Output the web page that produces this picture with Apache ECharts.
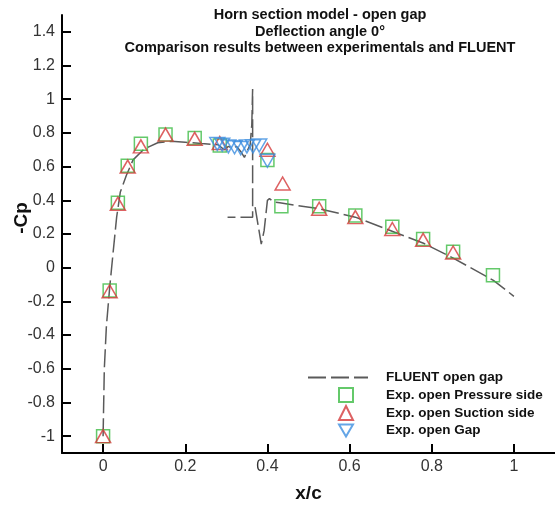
<!DOCTYPE html>
<html><head><meta charset="utf-8">
<script src="https://cdn.jsdelivr.net/npm/echarts@6/dist/echarts.min.js"></script>
<style>html,body{margin:0;padding:0;background:#fff}#c{width:555px;height:508px}</style>
</head><body><div id="c"></div>
<script>
const titleLines = ["Horn section model - open gap", "Deflection angle 0\u00b0", "Comparison results between experimentals and FLUENT"];
const xTicks = [0, 0.2, 0.4, 0.6, 0.8, 1];
const yTicks = [-1, -0.8, -0.6, -0.4, -0.2, 0, 0.2, 0.4, 0.6, 0.8, 1, 1.2, 1.4];
const seriesNames = ["FLUENT open gap", "Exp. open Pressure side", "Exp. open Suction side", "Exp. open Gap"];

const fluent = [
  [0,-1.0],[0.003,-0.6],[0.008,-0.35],[0.016,-0.12],[0.024,0.08],[0.033,0.3],[0.042,0.45],
  [0.057,0.55],[0.073,0.64],[0.1,0.705],[0.133,0.742],[0.166,0.75],[0.2,0.745],[0.24,0.737],
  [0.28,0.73],[0.295,0.70],[0.305,0.72],[0.315,0.71],[0.325,0.72],[0.335,0.69],[0.344,0.655],
  [0.352,0.70],[0.358,0.73],[0.362,0.85],[0.364,1.06],[0.364,0.30],[0.303,0.30],
  null,
  [0.37,0.36],[0.385,0.14],[0.392,0.22],[0.4,0.40],[0.405,0.41],[0.415,0.39],[0.43,0.385],
  [0.47,0.37],[0.526,0.35],[0.614,0.30],[0.705,0.215],[0.78,0.145],[0.85,0.06],[0.95,-0.075],[1.0,-0.17]
];
const pressure = [
  [0,-1.0],[0.016,-0.135],[0.036,0.385],[0.06,0.605],[0.092,0.735],[0.152,0.79],[0.223,0.77],
  [0.284,0.725],[0.4,0.64],[0.434,0.365],[0.526,0.365],[0.614,0.31],[0.704,0.243],[0.779,0.17],
  [0.852,0.095],[0.949,-0.045]
];
const suction = [
  [0,-1.0],[0.016,-0.14],[0.036,0.38],[0.06,0.6],[0.092,0.72],[0.152,0.79],[0.223,0.765],
  [0.284,0.74],[0.4,0.7],[0.437,0.5],[0.526,0.35],[0.614,0.30],[0.704,0.23],[0.779,0.165],[0.852,0.09]
];
const gap = [
  [0.278,0.735],[0.29,0.73],[0.305,0.72],[0.32,0.715],[0.335,0.71],[0.35,0.72],
  [0.365,0.72],[0.38,0.725],[0.4,0.635]
];

const chart = echarts.init(document.getElementById('c'), null, {renderer: 'canvas'});
const F = 'Liberation Sans, Arial, Helvetica, sans-serif';
const clear = 'rgba(0,0,0,0)';
const legendText = {fontFamily: F, fontWeight: 'bold', fontSize: 13.5, lineHeight: 15, color: '#111'};
chart.setOption({
  animation: false,
  backgroundColor: '#fff',
  title: {
    text: titleLines.join('\n'),
    left: 320, top: 7, padding: 0, textAlign: 'center',
    textStyle: {fontFamily: F, fontWeight: 'bold', fontSize: 14.5, lineHeight: 16.5, color: '#111'}
  },
  grid: {left: 62, right: 0, top: 15, bottom: 44, containLabel: false},
  xAxis: {
    type: 'value', min: -0.1, max: 1.1,
    name: 'x/c', nameLocation: 'middle', nameGap: 31,
    nameTextStyle: {fontFamily: F, fontWeight: 'bold', fontSize: 19, color: '#111'},
    axisLine: {onZero: false, lineStyle: {color: '#000', width: 2}},
    axisTick: {inside: true, length: 9, lineStyle: {color: '#000', width: 2}, customValues: xTicks},
    axisLabel: {customValues: xTicks, fontFamily: F, fontSize: 16, color: '#333', margin: 6},
    splitLine: {show: false}
  },
  yAxis: {
    type: 'value', min: -1.1, max: 1.5,
    axisLine: {onZero: false, lineStyle: {color: '#000', width: 2}},
    axisTick: {inside: true, length: 9, lineStyle: {color: '#000', width: 2}, customValues: yTicks},
    axisLabel: {customValues: yTicks, fontFamily: F, fontSize: 16, color: '#333', margin: 7},
    splitLine: {show: false}
  },
  graphic: [{
    type: 'text', x: 22, y: 218, rotation: Math.PI / 2,
    style: {text: '-Cp', font: 'bold 19px ' + F, fill: '#111', align: 'center', verticalAlign: 'middle'}
  }],
  legend: [{
    orient: 'vertical', left: 307, top: 370, padding: 0, itemWidth: 60, itemHeight: 14, itemGap: 3,
    itemStyle: {opacity: 0},
    textStyle: Object.assign({padding: [0,0,0,13]}, legendText),
    data: [seriesNames[0]]
  }, {
    orient: 'vertical', left: 338, top: 387, padding: 0, itemWidth: 14, itemHeight: 14, itemGap: 2,
    textStyle: Object.assign({padding: [0,0,0,28]}, legendText),
    data: [seriesNames[1], seriesNames[2], {name: seriesNames[3], icon: 'path://M0,0 L15,0 L7.5,13 Z'}]
  }],
  series: [
    {name: seriesNames[0], type: 'line', data: fluent, symbol: 'none', connectNulls: false,
     lineStyle: {color: '#5a5a5a', width: 1.5, type: [18, 5]}, itemStyle: {color: '#5a5a5a'}, z: 1},
    {name: seriesNames[1], type: 'scatter', data: pressure, symbol: 'rect', symbolSize: 13,
     itemStyle: {color: clear, borderColor: '#3dbb45', borderWidth: 1.5}, z: 2},
    {name: seriesNames[2], type: 'scatter', data: suction, symbol: 'triangle', symbolSize: [15, 13],
     itemStyle: {color: clear, borderColor: '#d5393b', borderWidth: 1.5}, z: 3},
    {name: seriesNames[3], type: 'scatter', data: gap, symbol: 'triangle', symbolRotate: 180, symbolSize: [15, 13],
     itemStyle: {color: clear, borderColor: '#3d8fe0', borderWidth: 1.5}, z: 4}
  ]
});
</script></body></html>
